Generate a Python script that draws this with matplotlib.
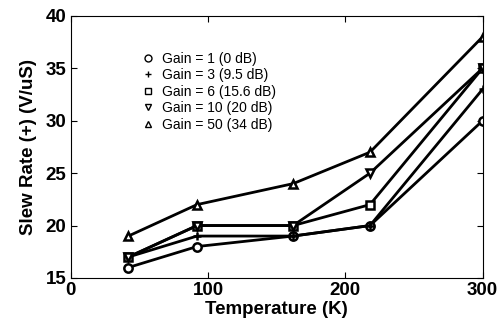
import matplotlib
matplotlib.use("Agg")
import matplotlib.pyplot as plt
from matplotlib.lines import Line2D

plt.rcParams["font.family"] = ["Liberation Sans", "DejaVu Sans"]

temps = [42, 92, 162, 218, 300]
gain1 = [16, 18, 19, 20, 30]
gain3 = [17, 19, 19, 20, 33]
gain6 = [17, 20, 20, 22, 35]
gain10 = [17, 20, 20, 25, 35]
gain50 = [19, 22, 24, 27, 38]

labels = ["Gain = 1 (0 dB)", "Gain = 3 (9.5 dB)", "Gain = 6 (15.6 dB)",
          "Gain = 10 (20 dB)", "Gain = 50 (34 dB)"]
markers = ["o", "+", "s", "v", "^"]
series = [gain1, gain3, gain6, gain10, gain50]

fig = plt.figure(figsize=(4.99, 3.32), dpi=100)
ax = fig.add_axes([0.1417, 0.1627, 0.8253, 0.7893])

for ys, m in zip(series, markers):
    ax.plot(temps, ys, color="black", lw=2, marker=m, ms=6,
            mfc="white", mec="black", mew=1.8)

handles = [Line2D([], [], ls="None", marker=m, color="black", mfc="none",
                  ms=5, mew=1) for m in markers]
ax.legend(handles, labels, loc="upper left", bbox_to_anchor=(0.155, 0.89),
          frameon=False, fontsize=10, handlelength=1, handletextpad=0.5,
          labelspacing=0.18, borderpad=0)

ax.set_xlim(0, 300)
ax.set_ylim(15, 40)
ax.set_xticks([0, 100, 200, 300])
ax.set_yticks([15, 20, 25, 30, 35, 40])
ax.tick_params(direction="in", top=True, right=True, length=4, width=0.8,
               labelsize=13.5, pad=3)
for lab in ax.get_xticklabels() + ax.get_yticklabels():
    lab.set_fontweight("bold")
for s in ax.spines.values():
    s.set_linewidth(0.8)

ax.set_xlabel("Temperature (K)", fontsize=13.5, fontweight="bold", labelpad=1)
ax.set_ylabel("Slew Rate (+) (V/uS)", fontsize=13.5, fontweight="bold", labelpad=6)

fig.savefig("out.png", dpi=100)
